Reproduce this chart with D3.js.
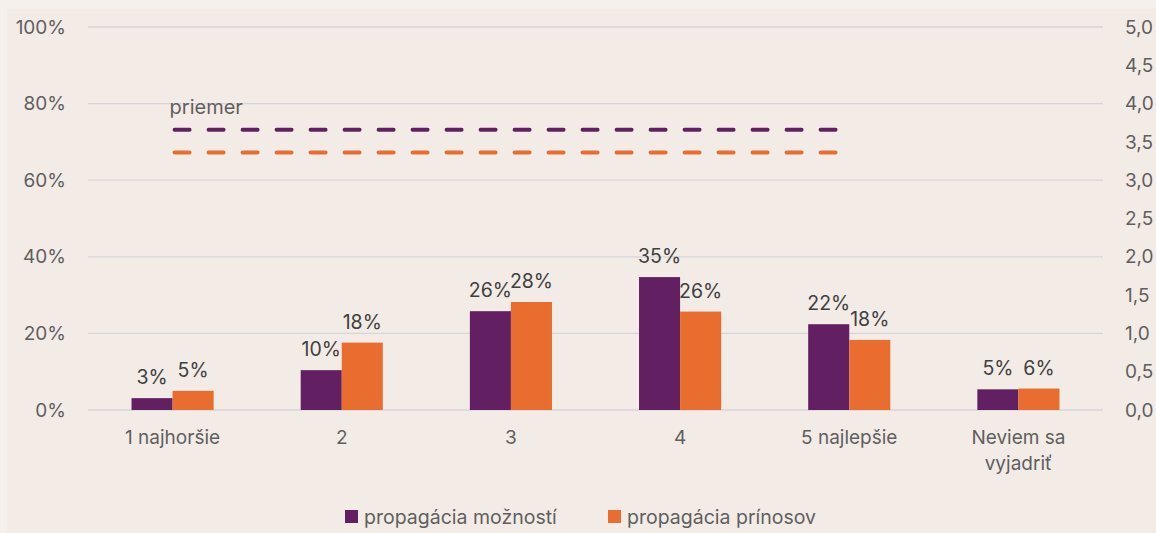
<!DOCTYPE html>
<html lang="sk">
<head>
<meta charset="utf-8">
<script src="https://d3js.org/d3.v7.min.js"></script>
<style>
body { margin: 0; background: #f6f0ec; font-family: Inter, "Open Sans", sans-serif; }
svg { display: block; }
</style>
</head>
<body>
<script>
// data
const categories = ["1 najhoršie", "2", "3", "4", "5 najlepšie", "Neviem sa|vyjadriť"];
const seriesNames = ["propagácia možností", "propagácia prínosov"];
const moznosti = [3.1, 10.4, 25.8, 34.7, 22.4, 5.4];
const prinosy = [5.0, 17.6, 28.2, 25.7, 18.3, 5.6];
const priemer = [3.66, 3.36];   // on the right axis
const leftTicks = [0, 20, 40, 60, 80, 100];
const rightTicks = [0, 0.5, 1, 1.5, 2, 2.5, 3, 3.5, 4, 4.5, 5];

const colors = ["#622062", "#e86d2f"];
const width = 1156, height = 533;
const margin = {top: 27, right: 53, bottom: 123, left: 88};

const svg = d3.select("body").append("svg")
    .attr("width", width).attr("height", height);

svg.append("rect").attr("x", 7).attr("y", 9).attr("width", width - 7).attr("height", height - 9)
    .attr("fill", "#f3ebe6");

const x = d3.scaleBand().domain(categories)
    .range([margin.left, width - margin.right]);
const x1 = d3.scaleBand().domain([0, 1])
    .range([0, x.bandwidth()]).paddingOuter(1.06);
const y = d3.scaleLinear().domain([0, 100]).range([height - margin.bottom, margin.top]);
const y2 = d3.scaleLinear().domain([0, 5]).range([height - margin.bottom, margin.top]);

// gridlines
svg.append("g").selectAll("line").data(leftTicks).join("line")
    .attr("x1", margin.left).attr("x2", width - margin.right)
    .attr("y1", d => y(d)).attr("y2", d => y(d))
    .attr("stroke", "#d6d6da").attr("stroke-width", 1.3);

// left axis labels
svg.append("g").selectAll("text").data(leftTicks).join("text")
    .attr("x", 66).attr("y", d => y(d)).attr("dy", "0.35em")
    .attr("text-anchor", "end").attr("font-size", 19).attr("fill", "#5f5f5f")
    .text(d => d + "%");

// right axis labels
svg.append("g").selectAll("text").data(rightTicks).join("text")
    .attr("x", 1125).attr("y", d => y2(d)).attr("dy", "0.35em")
    .attr("font-size", 19).attr("fill", "#5f5f5f")
    .text(d => d3.format(".1f")(d).replace(".", ","));

// bars
const series = [moznosti, prinosy];
series.forEach((vals, s) => {
  const g = svg.append("g");
  g.selectAll("rect").data(vals).join("rect")
    .attr("x", (d, i) => x(categories[i]) + x1(s))
    .attr("y", d => y(d))
    .attr("width", x1.bandwidth())
    .attr("height", d => y(0) - y(d))
    .attr("fill", colors[s]);
  g.selectAll("text").data(vals).join("text")
    .attr("x", (d, i) => x(categories[i]) + x1(s) + x1.bandwidth() / 2)
    .attr("y", d => y(d) - 14)
    .attr("text-anchor", "middle").attr("font-size", 19.5).attr("fill", "#404040")
    .text(d => Math.round(d) + "%");
});

// average dashed lines, from first to fifth category centre
const cx = i => x(categories[i]) + x.bandwidth() / 2;
priemer.forEach((v, s) => {
  svg.append("line")
    .attr("x1", cx(0)).attr("x2", cx(4))
    .attr("y1", y2(v)).attr("y2", y2(v))
    .attr("stroke", colors[s]).attr("stroke-width", 4)
    .attr("stroke-linecap", "round")
    .attr("stroke-dasharray", "15 19")
    .attr("transform", "translate(2,0)");
});
svg.append("text").attr("x", cx(0) - 3).attr("y", y2(priemer[0]) - 16)
  .attr("font-size", 20).attr("fill", "#5f5f5f").text("priemer");

// category labels
svg.append("g").selectAll("text").data(categories).join("text")
    .attr("x", d => x(d) + x.bandwidth() / 2)
    .attr("y", 444)
    .attr("text-anchor", "middle").attr("font-size", 19).attr("fill", "#5f5f5f")
    .each(function(d) {
      d.split("|").forEach((t, k) => {
        d3.select(this).append("tspan")
          .attr("x", x(d) + x.bandwidth() / 2)
          .attr("dy", k ? 26 : 0).text(t);
      });
    });

// legend
const legendX = [345, 608];
seriesNames.forEach((n, s) => {
  svg.append("rect").attr("x", legendX[s]).attr("y", 510)
    .attr("width", 13).attr("height", 13).attr("fill", colors[s]);
  svg.append("text").attr("x", legendX[s] + 19).attr("y", 517).attr("dy", "0.35em")
    .attr("font-size", 19.5).attr("fill", "#5f5f5f").text(n);
});
</script>
</body>
</html>
